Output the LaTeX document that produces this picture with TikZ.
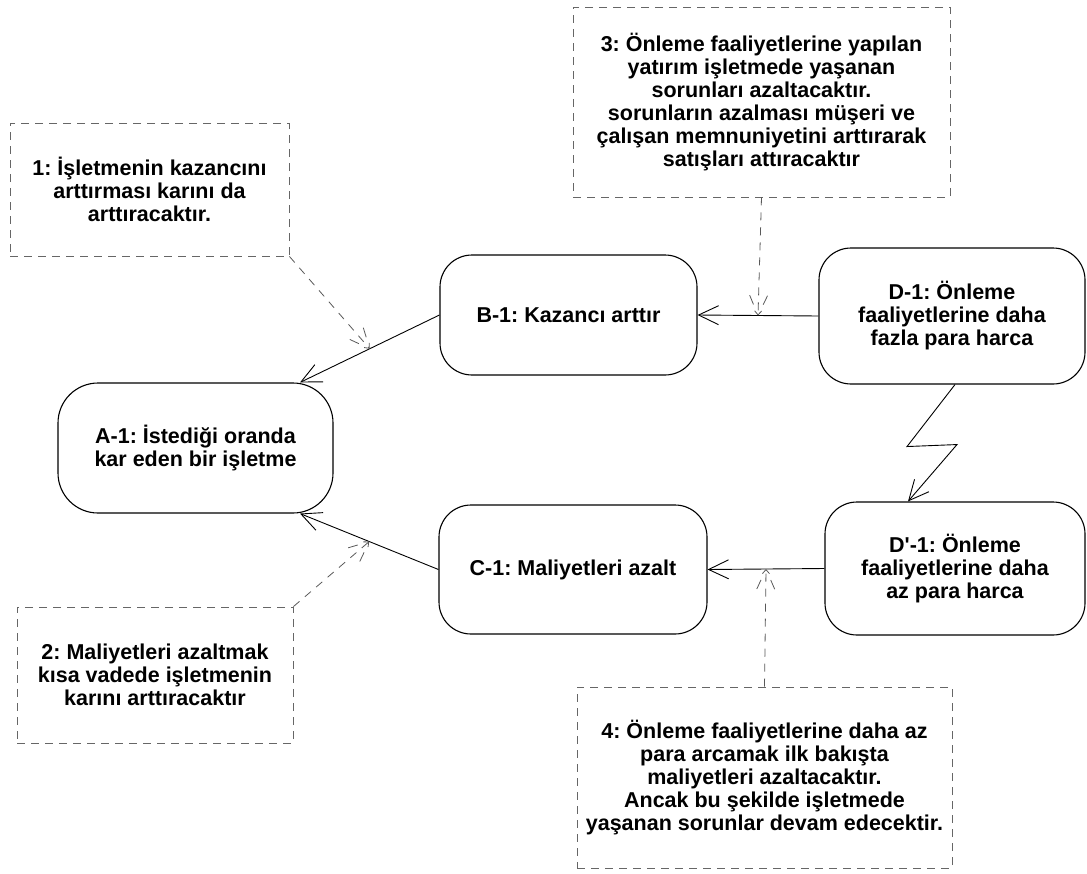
\documentclass[tikz,border=0pt]{standalone}
\usepackage{fontspec}
\setmainfont{Liberation Sans}
\usetikzlibrary{arrows.meta,calc}
\frenchspacing

\tikzset{
  goal/.style={draw=black, line width=1.1pt, rounded corners=32pt, inner sep=0pt,
    align=center, font=\bfseries\fontsize{21.5}{23}\selectfont},
  note/.style={draw=black!60, line width=0.9pt, dash pattern=on 8pt off 6pt,
    inner sep=0pt, align=center, font=\bfseries\fontsize{21.5}{23}\selectfont},
  arr/.style={draw=black, line width=0.9pt, -{Straight Barb[length=20pt,width=19pt,line width=0.9pt]}},
  hint/.style={draw=black!65, line width=0.8pt, dash pattern=on 8pt off 7pt,
    -{Straight Barb[length=4pt,width=7pt,line width=0.8pt]}},
  spark/.style={draw=black!65, line width=0.8pt},
}

% two short strokes flanking the tip of an assumption arrow
\newcommand\drawsparks[2]{%
  \draw[spark] ($(#1)!12pt!24:(#2)$) -- ($(#1)!22pt!24:(#2)$);
  \draw[spark] ($(#1)!12pt!-24:(#2)$) -- ($(#1)!22pt!-24:(#2)$);
}

\begin{document}
\begin{tikzpicture}[x=1pt,y=-1pt]
\useasboundingbox (0,0) rectangle (1087,873);

% goals and actions
\node[goal, minimum width=275pt, minimum height=130pt, rounded corners=40pt] (a1) at (195.5,448)
  {A-1: İstediği oranda\\kar eden bir işletme};
\node[goal, minimum width=257pt, minimum height=120pt] (b1) at (568.5,315)
  {B-1: Kazancı arttır};
\node[goal, minimum width=268pt, minimum height=129pt] (c1) at (573,569.5)
  {C-1: Maliyetleri azalt};
\node[goal, minimum width=266pt, minimum height=136pt] (d1) at (952,316)
  {D-1: Önleme\\faaliyetlerine daha\\fazla para harca};
\node[goal, minimum width=260pt, minimum height=133pt] (dp1) at (955,568.5)
  {D\textquotesingle-1: Önleme\\faaliyetlerine daha\\az para harca};

% assumptions
\node[note, minimum width=279pt, minimum height=133pt] (n1) at (149.5,189.5)
  {1: İşletmenin kazancını\\arttırması karını da\\arttıracaktır.};
\node[note, minimum width=377pt, minimum height=190pt] (n3) at (761.5,102)
  {3: Önleme faaliyetlerine yapılan\\yatırım işletmede yaşanan\\sorunları azaltacaktır.\\sorunların azalması müşeri ve\\çalışan memnuniyetini arttırarak\\satışları attıracaktır};
\node[note, minimum width=276pt, minimum height=136pt] (n2) at (155,675)
  {2: Maliyetleri azaltmak\\kısa vadede işletmenin\\karını arttıracaktır};
\node[note, minimum width=375pt, minimum height=181pt] (n4) at (764.5,777.5)
  {4: Önleme faaliyetlerine daha az\\para arcamak ilk bakışta\\maliyetleri azaltacaktır.\\Ancak bu şekilde işletmede\\yaşanan sorunlar devam edecektir.};

% necessity arrows
\draw[arr] (b1.west) -- coordinate[pos=.5] (m1) ([xshift=104.5pt]a1.north);
\draw[arr] (c1.west) -- coordinate[pos=.5] (m2) ([xshift=104.5pt]a1.south);
\draw[arr] (d1.west) -- coordinate[pos=.5] (m3) (b1.east);
\draw[arr] (dp1.west) -- coordinate[pos=.5] (m4) (c1.east);

% conflict
\draw[arr] ([xshift=3pt]d1.south) -- ++(-48,62) -- ++(50,-2) -- ([xshift=-47pt]dp1.north);

% assumption arrows
\draw[hint] (n1.south east) -- (m1);
\drawsparks{m1}{n1.south east}
\draw[hint] (n2.north east) -- (m2);
\drawsparks{m2}{n2.north east}
\draw[hint] (n3.south) -- (m3);
\drawsparks{m3}{n3.south}
\draw[hint] (n4.north) -- (m4);
\drawsparks{m4}{n4.north}
\end{tikzpicture}
\end{document}
